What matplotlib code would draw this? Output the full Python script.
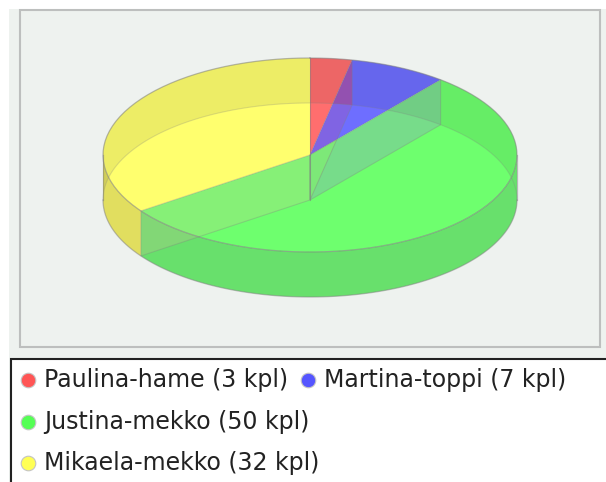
import numpy as np
import matplotlib
matplotlib.use("Agg")
import matplotlib.pyplot as plt
from matplotlib.patches import Rectangle, Polygon

names = ["Paulina-hame", "Martina-toppi", "Justina-mekko", "Mikaela-mekko"]
values = [3, 7, 50, 32]
unit = "kpl"
top_colors = ["#FF6E6E", "#6E6EFF", "#6EFF6E", "#FFFF6E"]
wall_colors = ["#E06060", "#6060E0", "#68E06C", "#E1DE5F"]
overlay_colors = ["#FF2328", "#A050FF", "#EBB4A0"]
legend_colors = ["#FF5555", "#5555FF", "#55FF55", "#FFFF55"]
legend_pos = [(28, 380), (308, 380), (28, 422), (28, 463)]

W, H = 606, 482
BG = "#EEF2EF"
cx, cy, rx, ry, depth = 310, 155, 207, 97, 45

fig = plt.figure(figsize=(W / 100, H / 100), dpi=100, facecolor="white")
ax = fig.add_axes([0, 0, 1, 1])
ax.set_xlim(0, W)
ax.set_ylim(H, 0)
ax.axis("off")

ax.add_patch(Rectangle((9, 9), W - 9, H - 9, fc=BG, ec="none", zorder=0))
ax.add_patch(Rectangle((20, 10), 580, 337, fc=BG, ec="#BDBFBE", lw=1.5, zorder=1))
ax.add_patch(Rectangle((11, 359), W, H, fc="white", ec="#222222", lw=1.5, zorder=1))


def arc(a, b, dy=0, n=120):
    t = np.radians(np.linspace(a, b, n))
    return np.column_stack([cx + rx * np.sin(t), cy + dy - ry * np.cos(t)])


def band(a, b):
    return np.vstack([arc(a, b), arc(a, b, depth)[::-1]])


def cross(p1, p2, p3, p4):
    d1, d2 = p2 - p1, p4 - p3
    s = np.cross(p3 - p1, d2) / np.cross(d1, d2)
    return p1 + s * d1


edges = np.concatenate([[0], np.cumsum(values)]) / sum(values) * 360
EDGE = "#808080"

# top faces
for i in range(len(values)):
    pts = np.vstack([[cx, cy], arc(edges[i], edges[i + 1])])
    ax.add_patch(Polygon(pts, closed=True, fc=top_colors[i], ec="none", zorder=2))

# walls: split where the rim turns from back to front
for i in range(len(values)):
    a, b = edges[i], edges[i + 1]
    cuts = [a] + [c for c in (90, 270) if a < c < b] + [b]
    for s, e in zip(cuts[:-1], cuts[1:]):
        mid = (s + e) / 2
        if 90 <= mid <= 270:
            ax.add_patch(Polygon(band(s, e), closed=True, fc=wall_colors[i], ec="none", zorder=3))
        else:
            ax.add_patch(Polygon(band(s, e), closed=True, fc="black", alpha=0.07, ec="none", zorder=3))

# radial walls seen through the pie
quads = []
for i, ang in enumerate(edges[1:-1]):
    p = arc(ang, ang, n=1)[0]
    quad = np.array([[cx, cy], p, p + [0, depth], [cx, cy + depth]])
    quads.append(quad)
    alpha = 0.13 if i == 0 else 0.2
    ax.add_patch(Polygon(quad, closed=True, fc=overlay_colors[i], alpha=alpha, ec="none", zorder=4))
    ax.add_patch(Polygon(quad, closed=True, fill=False, ec=EDGE, alpha=0.3, lw=0.8, zorder=5))

# first radial wall reads stronger where it crosses the back rim
extra = Polygon(quads[0], closed=True, fc=overlay_colors[0], alpha=0.2, ec="none", zorder=4)
ax.add_patch(extra)
extra.set_clip_path(Polygon(band(edges[0], edges[2]), closed=True, transform=ax.transData))

# where the first two radial walls overlap on the large slice
apex = cross(quads[0][3], quads[0][2], quads[1][0], quads[1][1])
ax.add_patch(Polygon([quads[0][0], apex, quads[0][3]], closed=True,
                     fc="#7DE878", ec="none", zorder=4.5))

# outlines
ax.plot(*arc(0, 360).T, color=EDGE, alpha=0.55, lw=0.9, zorder=6)
ax.plot(*arc(-90, 90, depth).T, color=EDGE, alpha=0.25, lw=0.8, zorder=6)
ax.plot(*arc(90, 270, depth).T, color=EDGE, alpha=0.5, lw=0.9, zorder=6)
for x in (cx - rx, cx + rx):
    ax.plot([x, x], [cy, cy + depth], color=EDGE, alpha=0.5, lw=0.9, zorder=6)
ax.plot([cx, cx], [cy - ry, cy], color=EDGE, alpha=0.5, lw=0.8, zorder=6)
ax.plot([cx, cx], [cy, cy + depth], color=EDGE, alpha=0.5, lw=0.8, zorder=6)

# legend
for name, v, c, (x, y) in zip(names, values, legend_colors, legend_pos):
    ax.scatter([x], [y], s=110, c=c, edgecolors="#C4C4C4", linewidths=0.8, zorder=7)
    ax.text(x + 16, y, f"{name} ({v} {unit})", fontsize=17, color="#222222",
            family="DejaVu Sans", va="center", ha="left", zorder=7)

fig.savefig("out.png", dpi=100, facecolor="white")
